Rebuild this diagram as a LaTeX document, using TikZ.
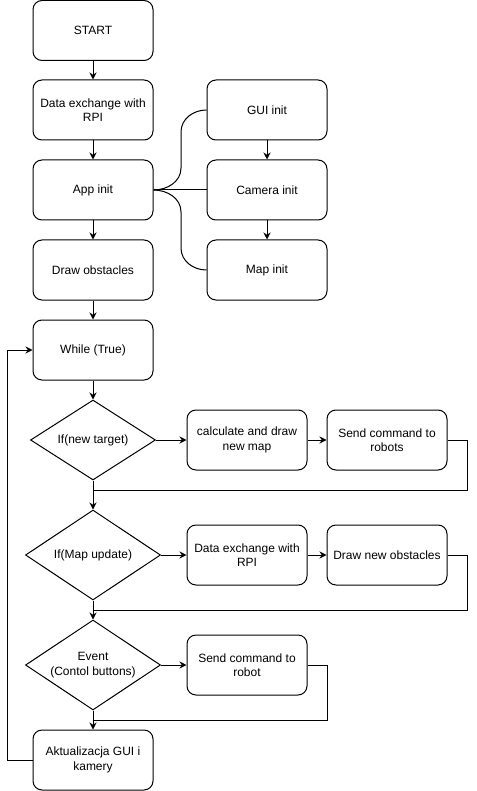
\documentclass[tikz,border=0pt]{standalone}
\usepackage{fontspec}
\setmainfont{Liberation Sans}
\usetikzlibrary{arrows.meta}
\usetikzlibrary{shapes.geometric}

\begin{document}
\begin{tikzpicture}[x=1pt,y=-1pt,line width=1pt,
  block/.style={rectangle,draw=black,rounded corners=9pt,minimum width=120pt,minimum height=60pt,
    align=center,inner sep=0pt,font=\fontsize{12pt}{14.4pt}\selectfont},
  test/.style={diamond,draw=black,aspect=1.5,inner sep=0pt,align=center,
    font=\fontsize{12pt}{14.4pt}\selectfont},
  arr/.style={-{Stealth[length=7pt,width=7pt]}}]
\useasboundingbox (0,0) rectangle (476,791);
\node at ( 93,  30.5) (start) [block] {START};
\node at ( 93, 110) (rpi) [block] {Data exchange with\\RPI};
\node at ( 93, 190) (app) [block] {App init};
\node at ( 93, 270) (obst) [block] {Draw obstacles};
\node at (267, 110) (gui) [block] {GUI init};
\node at (267, 190) (cam) [block] {Camera init};
\node at (267, 270) (map) [block] {Map init};
\node at ( 93, 350) (loop) [block] {While (True)};
\node at ( 93, 440) (target) [test,minimum width=125pt,minimum height=80pt] {If(new target)};
\node at (247, 440) (calc) [block] {calculate and draw\\new map};
\node at (387, 440) (robots) [block] {Send command to\\robots};
\node at ( 93, 555) (update) [test,minimum width=135pt,minimum height=90pt] {If(Map update)};
\node at (247, 555) (rpitwo) [block] {Data exchange with\\RPI};
\node at (387, 555) (newobst) [block] {Draw new obstacles};
\node at ( 93, 665) (event) [test,minimum width=135pt,minimum height=90pt] {Event\\(Contol buttons)};
\node at (247, 665) (robot) [block] {Send command to\\robot};
\node at ( 93, 760) (gui2) [block] {Aktualizacja GUI i\\kamery};
\coordinate (m1) at (93,490);
\coordinate (m2) at (93,610);
\coordinate (m3) at (93,720);
\draw [arr] (start) -- (rpi);
\draw [arr] (rpi) -- (app);
\draw [arr] (app) -- (obst);
\draw [arr] (obst) -- (loop);
\draw [arr] (loop) -- (target);
\draw (app.east) to[out=0,in=-90] (181,168) -- (181,132) to[out=90,in=180] (gui.west);
\draw (app.east) -- (cam.west);
\draw (app.east) to[out=0,in=90] (181,212) -- (181,248) to[out=-90,in=180] (map.west);
\draw [arr] (gui) -- (cam);
\draw [arr] (cam) -- (map);
\draw [arr] (target) -- (calc);
\draw [arr] (calc) -- (robots);
\draw (target.south) -- (m1);
\draw (robots.east) -- ++(20,0) |- (m1);
\draw [arr] (m1) -- (update.north);
\draw [arr] (update) -- (rpitwo);
\draw [arr] (rpitwo) -- (newobst);
\draw (update.south) -- (m2);
\draw (newobst.east) -- ++(20,0) |- (m2);
\draw [arr] (m2) -- (event.north);
\draw [arr] (event) -- (robot);
\draw (event.south) -- (m3);
\draw (robot.east) -- ++(20,0) |- (m3);
\draw [arr] (m3) -- (gui2.north);
\draw [arr] (gui2.west) -- ++(-25,0) |- (loop.west);
\end{tikzpicture}
\end{document}
